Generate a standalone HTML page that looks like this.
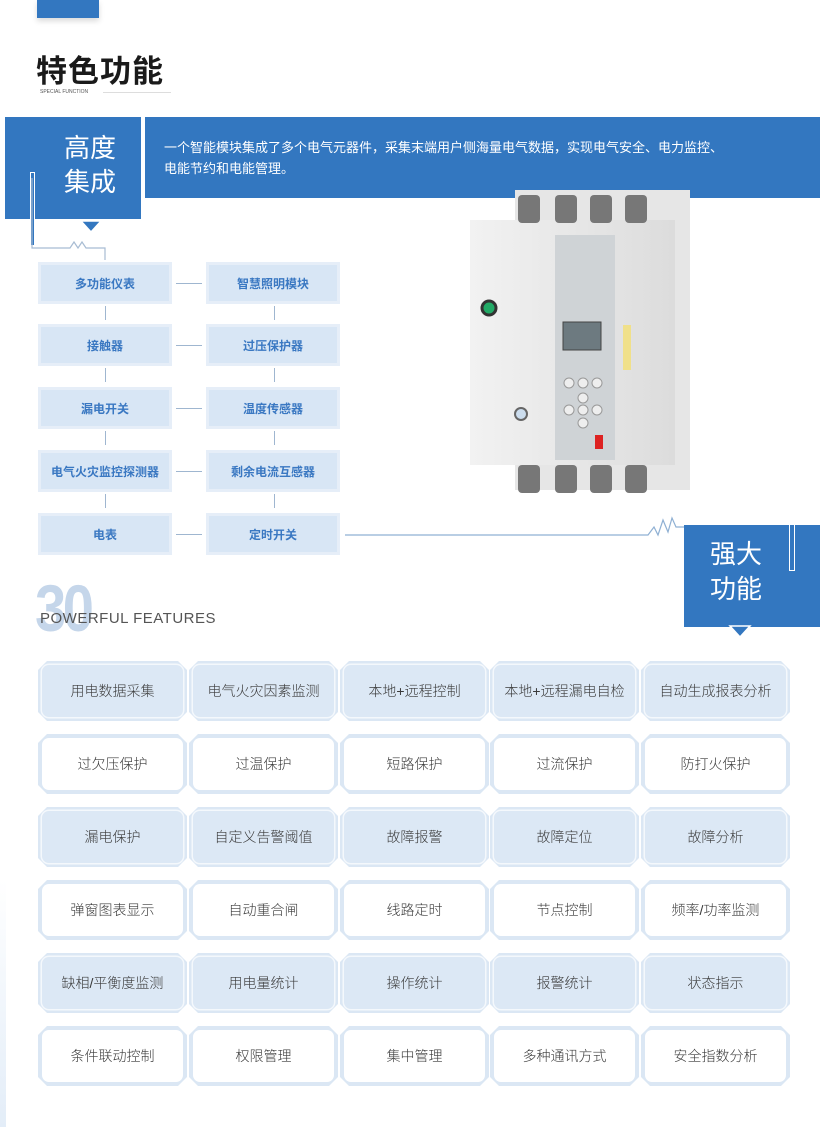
<!DOCTYPE html>
<html><head><meta charset="utf-8"><style>
*{margin:0;padding:0;box-sizing:border-box}
body{width:820px;height:1127px;position:relative;background:#fff;overflow:hidden;font-family:"Liberation Sans","Noto Sans CJK SC",sans-serif}
.a{position:absolute}
.lb{position:absolute;width:134px;height:42px;background:#e6eef8;padding:3px}
.lb div{width:100%;height:100%;background:#d8e6f5;color:#3a78c2;font-weight:bold;font-size:12px;display:flex;align-items:center;justify-content:center}
.hl{position:absolute;height:1px;background:#9fb6d0}
.vl{position:absolute;width:1px;background:#9fb6d0}
.c{position:absolute;width:149px;height:60px;background:#dbe7f4;clip-path:polygon(9px 0,calc(100% - 9px) 0,100% 9px,100% calc(100% - 9px),calc(100% - 9px) 100%,9px 100%,0 calc(100% - 9px),0 9px)}
.c div{position:absolute;left:4px;top:4px;right:4px;bottom:4px;border-radius:7px;display:flex;align-items:center;justify-content:center;font-size:14px;color:#3a3a3a;font-weight:300}
.f div{background:#dce8f5;box-shadow:0 0 0 1.5px #f4f8fc}
.w div{background:#fff}
</style></head><body>
<div class="a" style="left:37px;top:0;width:62px;height:18px;background:#3377c0;box-shadow:0 3px 6px rgba(0,0,0,.15)"></div>
<div class="a" style="left:36px;top:46px;font-size:31px;font-weight:bold;color:#1a1a1a;letter-spacing:1px">特色功能</div>
<div class="a" style="left:40px;top:89px;font-size:5px;color:#555">SPECIAL FUNCTION</div>
<div class="a" style="left:103px;top:92px;width:68px;height:1px;background:#ddd"></div>

<div class="a" style="left:5px;top:117px;width:136px;height:102px;background:#3377c0"></div>
<div class="a" style="left:145px;top:117px;width:675px;height:81px;background:#3377c0"></div>
<div class="a" style="left:64px;top:131px;font-size:26px;line-height:34px;color:#fff">高度<br>集成</div>
<div class="a" style="left:164px;top:137px;font-size:13px;line-height:21px;color:#fff">一个智能模块集成了多个电气元器件，采集末端用户侧海量电气数据，实现电气安全、电力监控、<br>电能节约和电能管理。</div>
<div class="a" style="left:30px;top:172px;width:5px;height:73px;border:1px solid #fff;border-bottom:none;background:#3377c0"></div>
<svg class="a" style="left:0;top:170px" width="200" height="100">
<polyline points="32,8 32,78 70,78 74,72 78,78 82,72 86,78 105,78 105,90" fill="none" stroke="#a8bcd3" stroke-width="1.2"/>
<polygon points="81,51 101,51 91,62" fill="#3377c0" stroke="#fff" stroke-width="1.5"/>
</svg>

<div class="lb" style="left:38px;top:262px"><div>多功能仪表</div></div>
<div class="lb" style="left:206px;top:262px"><div>智慧照明模块</div></div>
<div class="lb" style="left:38px;top:324px"><div>接触器</div></div>
<div class="lb" style="left:206px;top:324px"><div>过压保护器</div></div>
<div class="lb" style="left:38px;top:387px"><div>漏电开关</div></div>
<div class="lb" style="left:206px;top:387px"><div>温度传感器</div></div>
<div class="lb" style="left:38px;top:450px"><div>电气火灾监控探测器</div></div>
<div class="lb" style="left:206px;top:450px"><div>剩余电流互感器</div></div>
<div class="lb" style="left:38px;top:513px"><div>电表</div></div>
<div class="lb" style="left:206px;top:513px"><div>定时开关</div></div>
<div class="hl" style="left:176px;top:283px;width:26px"></div>
<div class="hl" style="left:176px;top:345px;width:26px"></div>
<div class="hl" style="left:176px;top:408px;width:26px"></div>
<div class="hl" style="left:176px;top:471px;width:26px"></div>
<div class="hl" style="left:176px;top:534px;width:26px"></div>
<div class="vl" style="left:105px;top:306px;height:14px"></div>
<div class="vl" style="left:274px;top:306px;height:14px"></div>
<div class="vl" style="left:105px;top:368px;height:14px"></div>
<div class="vl" style="left:274px;top:368px;height:14px"></div>
<div class="vl" style="left:105px;top:431px;height:14px"></div>
<div class="vl" style="left:274px;top:431px;height:14px"></div>
<div class="vl" style="left:105px;top:494px;height:14px"></div>
<div class="vl" style="left:274px;top:494px;height:14px"></div>

<svg class="a" style="left:460px;top:185px" width="240" height="330">
<defs><linearGradient id="g" x1="0" x2="1"><stop offset="0" stop-color="#f2f2f2"/><stop offset="1" stop-color="#dcdcdc"/></linearGradient></defs>
<rect x="55" y="5" width="175" height="300" fill="#e6e6e6"/>
<rect x="10" y="35" width="205" height="245" fill="url(#g)"/>
<rect x="95" y="50" width="60" height="225" fill="#cfd3d6"/>
<rect x="103" y="137" width="38" height="28" fill="#6d7a80" stroke="#444"/>
<g fill="#777"><rect x="58" y="10" width="22" height="28" rx="4"/><rect x="95" y="10" width="22" height="28" rx="4"/><rect x="130" y="10" width="22" height="28" rx="4"/><rect x="165" y="10" width="22" height="28" rx="4"/>
<rect x="58" y="280" width="22" height="28" rx="4"/><rect x="95" y="280" width="22" height="28" rx="4"/><rect x="130" y="280" width="22" height="28" rx="4"/><rect x="165" y="280" width="22" height="28" rx="4"/></g>
<circle cx="29" cy="123" r="7" fill="#2a6" stroke="#333" stroke-width="3"/>
<circle cx="61" cy="229" r="6" fill="#cde" stroke="#666" stroke-width="2"/>
<rect x="135" y="250" width="8" height="14" fill="#d22"/>
<rect x="163" y="140" width="8" height="45" fill="#f0e08a"/>
<g fill="#eee" stroke="#999"><circle cx="109" cy="198" r="5"/><circle cx="123" cy="198" r="5"/><circle cx="137" cy="198" r="5"/><circle cx="123" cy="213" r="5"/><circle cx="123" cy="238" r="5"/><circle cx="109" cy="225" r="5"/><circle cx="123" cy="225" r="5"/><circle cx="137" cy="225" r="5"/></g>
</svg>

<svg class="a" style="left:0;top:500px" width="820" height="140">
<polyline points="345,35 648,35 654,27 658,35 663,20 668,32 672,18 676,27 680,27 793,27 793,70" fill="none" stroke="#8fb0d3" stroke-width="1.2"/>
</svg>
<div class="a" style="left:684px;top:525px;width:136px;height:102px;background:#3377c0"></div>
<div class="a" style="left:789px;top:525px;width:6px;height:46px;border:1px solid #fff;border-top:none;background:#3377c0"></div>
<div class="a" style="left:710px;top:537px;font-size:26px;line-height:35px;color:#fff">强大<br>功能</div>
<svg class="a" style="left:728px;top:624px" width="26" height="16"><polygon points="2,2 22,2 12,13" fill="#3377c0" stroke="#fff" stroke-width="1.5"/></svg>

<div class="a" style="left:35px;top:570px;font-size:66px;font-weight:bold;color:#c5d6ea;letter-spacing:-4px;transform:scaleX(.85);transform-origin:left">30</div>
<div class="a" style="left:40px;top:610px;font-size:15px;color:#555;letter-spacing:.5px">POWERFUL FEATURES</div>

<div class="c f" style="left:38px;top:661px"><div>用电数据采集</div></div>
<div class="c f" style="left:189px;top:661px"><div>电气火灾因素监测</div></div>
<div class="c f" style="left:340px;top:661px"><div>本地+远程控制</div></div>
<div class="c f" style="left:490px;top:661px"><div>本地+远程漏电自检</div></div>
<div class="c f" style="left:641px;top:661px"><div>自动生成报表分析</div></div>
<div class="c w" style="left:38px;top:734px"><div>过欠压保护</div></div>
<div class="c w" style="left:189px;top:734px"><div>过温保护</div></div>
<div class="c w" style="left:340px;top:734px"><div>短路保护</div></div>
<div class="c w" style="left:490px;top:734px"><div>过流保护</div></div>
<div class="c w" style="left:641px;top:734px"><div>防打火保护</div></div>
<div class="c f" style="left:38px;top:807px"><div>漏电保护</div></div>
<div class="c f" style="left:189px;top:807px"><div>自定义告警阈值</div></div>
<div class="c f" style="left:340px;top:807px"><div>故障报警</div></div>
<div class="c f" style="left:490px;top:807px"><div>故障定位</div></div>
<div class="c f" style="left:641px;top:807px"><div>故障分析</div></div>
<div class="c w" style="left:38px;top:880px"><div>弹窗图表显示</div></div>
<div class="c w" style="left:189px;top:880px"><div>自动重合闸</div></div>
<div class="c w" style="left:340px;top:880px"><div>线路定时</div></div>
<div class="c w" style="left:490px;top:880px"><div>节点控制</div></div>
<div class="c w" style="left:641px;top:880px"><div>频率/功率监测</div></div>
<div class="c f" style="left:38px;top:953px"><div>缺相/平衡度监测</div></div>
<div class="c f" style="left:189px;top:953px"><div>用电量统计</div></div>
<div class="c f" style="left:340px;top:953px"><div>操作统计</div></div>
<div class="c f" style="left:490px;top:953px"><div>报警统计</div></div>
<div class="c f" style="left:641px;top:953px"><div>状态指示</div></div>
<div class="c w" style="left:38px;top:1026px"><div>条件联动控制</div></div>
<div class="c w" style="left:189px;top:1026px"><div>权限管理</div></div>
<div class="c w" style="left:340px;top:1026px"><div>集中管理</div></div>
<div class="c w" style="left:490px;top:1026px"><div>多种通讯方式</div></div>
<div class="c w" style="left:641px;top:1026px"><div>安全指数分析</div></div>
<div class="a" style="left:0;top:880px;width:6px;height:247px;background:linear-gradient(#fff,#e3edf8)"></div>
</body></html>
